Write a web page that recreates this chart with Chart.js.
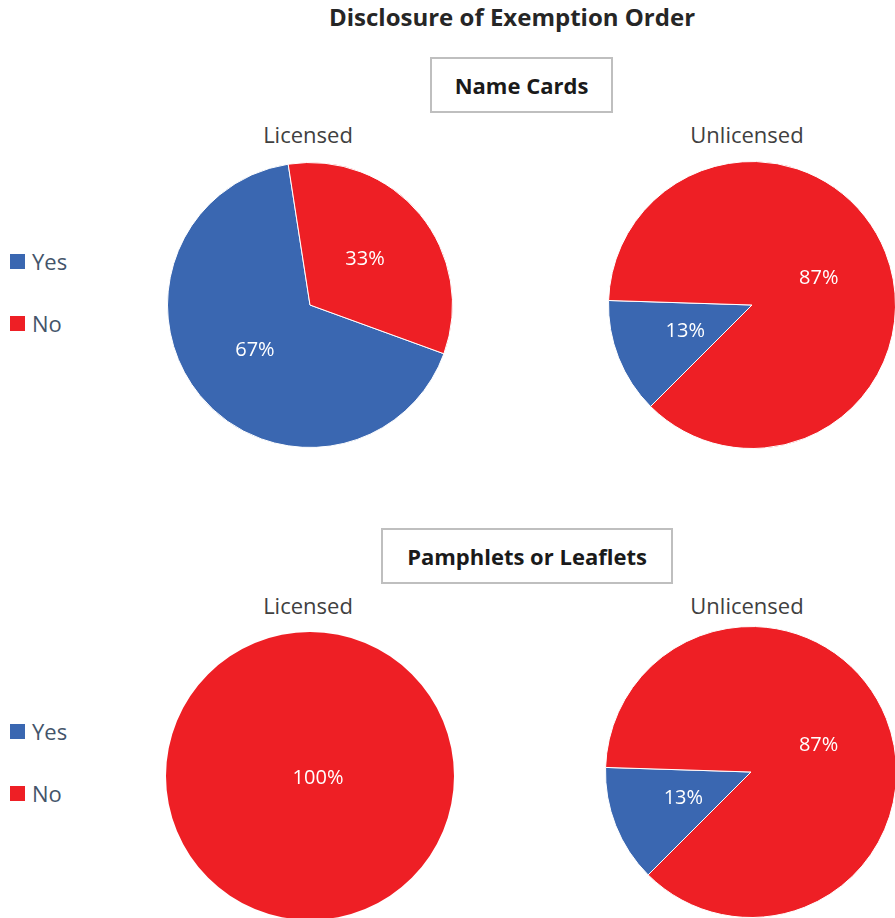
<!DOCTYPE html>
<html>
<head>
<meta charset="utf-8">
<script src="https://cdn.jsdelivr.net/npm/chart.js@4"></script>
<style>
  html, body { margin: 0; padding: 0; background: #fff; width: 895px; height: 918px; overflow: hidden; }
  body { position: relative; font-family: "Open Sans", Lato, sans-serif; }
  .abs { position: absolute; transform: translate(-50%, -50%); white-space: nowrap; line-height: 1; }
  .title { font-weight: bold; font-size: 24px; color: #262626; }
  .box { position: absolute; border: 2px solid #BFBFBF; box-sizing: border-box; display: flex; align-items: center; justify-content: center; font-weight: bold; font-size: 22px; color: #1a1a1a; }
  .sub { font-size: 22px; color: #404040; }
  .legend { position: absolute; left: 10px; }
  .legend .item { position: absolute; left: 0; display: flex; align-items: center; font-size: 22px; line-height: 1; color: #44546A; white-space: nowrap; }
  .legend .sw { width: 15px; height: 15px; margin-right: 7px; }
  .pie { position: absolute; }
</style>
</head>
<body>
<script>
// ---- data ----
const categories = ['Yes', 'No'];
const nameCardsLicensed = [67, 33];
const nameCardsUnlicensed = [13, 87];
const leafletsLicensed = [0, 100];
const leafletsUnlicensed = [13, 87];
const chartTitle = 'Disclosure of Exemption Order';
const groupTitles = ['Name Cards', 'Pamphlets or Leaflets'];
const pieTitles = ['Licensed', 'Unlicensed'];

const colors = ['#3A67B1', '#EE1F25'];

function addText(cls, text, x, y) {
  const d = document.createElement('div');
  d.className = 'abs ' + cls;
  d.textContent = text;
  d.style.left = x + 'px';
  d.style.top = y + 'px';
  document.body.appendChild(d);
}
function addBox(text, x, y, w, h) {
  const d = document.createElement('div');
  d.className = 'box';
  d.textContent = text;
  Object.assign(d.style, { left: x + 'px', top: y + 'px', width: w + 'px', height: h + 'px' });
  document.body.appendChild(d);
}
function addLegend(top) {
  const lg = document.createElement('div');
  lg.className = 'legend';
  lg.style.top = top + 'px';
  categories.forEach((c, i) => {
    const it = document.createElement('div');
    it.className = 'item';
    it.style.top = (i * 62) + 'px';
    const sw = document.createElement('span');
    sw.className = 'sw';
    sw.style.background = colors[i];
    const t = document.createElement('span');
    t.textContent = c;
    it.appendChild(sw); it.appendChild(t);
    lg.appendChild(it);
  });
  document.body.appendChild(lg);
}

const labelPlugin = {
  id: 'pctLabels',
  afterDatasetsDraw(chart) {
    const ctx = chart.ctx;
    const ds = chart.data.datasets[0];
    const total = ds.data.reduce((a, b) => a + b, 0);
    const meta = chart.getDatasetMeta(0);
    ctx.save();
    ctx.fillStyle = '#FFFFFF';
    ctx.font = '20px "Open Sans", Lato, sans-serif';
    ctx.textAlign = 'center';
    ctx.textBaseline = 'middle';
    meta.data.forEach((arc, i) => {
      const v = ds.data[i];
      if (!v) return;
      let p;
      if (v === total) { p = { x: arc.x + 8, y: arc.y + 2 }; }
      else { p = arc.tooltipPosition(); }
      ctx.fillText(Math.round(v / total * 100) + '%', p.x, p.y);
    });
    ctx.restore();
  }
};

function addPie(values, cx, cy, r, rotation) {
  const size = 2 * r + 4;
  const total = values.reduce((a, b) => a + b, 0);
  const c = document.createElement('canvas');
  c.className = 'pie';
  c.width = size; c.height = size;
  Object.assign(c.style, { left: (cx - size / 2) + 'px', top: (cy - size / 2) + 'px', width: size + 'px', height: size + 'px' });
  document.body.appendChild(c);
  new Chart(c, {
    type: 'pie',
    data: {
      labels: categories,
      datasets: [{
        data: values,
        backgroundColor: colors,
        borderColor: '#FFFFFF',
        borderWidth: (ctx) => ((ctx.raw === 0 || ctx.raw === total) ? 0 : 1)
      }]
    },
    options: {
      responsive: false,
      animation: false,
      rotation: rotation,
      layout: { padding: 1 },
      plugins: { legend: { display: false }, tooltip: { enabled: false }, title: { display: false } }
    },
    plugins: [labelPlugin]
  });
}

addText('title', chartTitle, 512, 17);
addBox(groupTitles[0], 430, 57, 183, 56);
addBox(groupTitles[1], 381, 528, 292, 56);
addText('sub', pieTitles[0], 308, 134);
addText('sub', pieTitles[1], 747, 134);
addText('sub', pieTitles[0], 308, 605);
addText('sub', pieTitles[1], 747, 605);
addLegend(250);
addLegend(720);

addPie(nameCardsLicensed, 310, 305, 142, 110);
addPie(nameCardsUnlicensed, 752, 305, 143, 225);
addPie(leafletsLicensed, 310, 776, 143, 0);
addPie(leafletsUnlicensed, 751, 772, 145, 225);
</script>
</body>
</html>
